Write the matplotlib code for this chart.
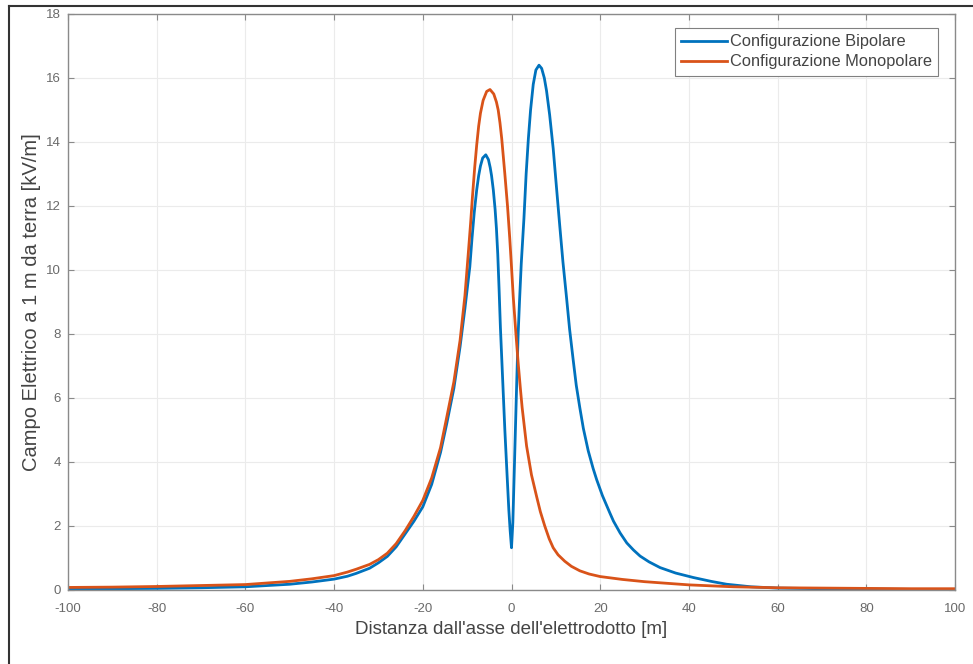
import numpy as np
import matplotlib.pyplot as plt
from matplotlib.lines import Line2D

plt.rcParams['font.family'] = ['Liberation Sans', 'DejaVu Sans']
plt.rcParams['axes.unicode_minus'] = False

# values
bip_x = [-100, -90, -80, -70, -60, -50, -45, -40, -37, -35, -32, -30, -28, -26, -24,
         -22, -20, -18, -16, -14.6, -13, -11.6, -10.5, -9.4, -8.9, -8.4, -7.85, -7.4,
         -7.0, -6.5, -5.8, -5.2, -4.8, -4.5, -4.1, -3.7, -3.4, -3.1, -2.8, -2.5, -2.0,
         -1.5, -1.0, -0.6, -0.3, 0, 0.3, 0.6, 0.9, 1.2, 1.5, 1.8, 2.2, 2.8, 3.3, 3.8,
         4.3, 4.9, 5.5, 6.2, 6.8, 7.4, 7.9, 8.6, 9.4, 10.1, 10.9, 11.6, 12.4, 13.1,
         13.9, 14.6, 15.4, 16.2, 17.3, 18.4, 19.2, 20.5, 22.2, 23, 24.5, 26, 27.5, 29,
         31, 33.5, 37, 41, 45, 48.5, 54, 60, 70, 80, 90, 100]
bip_y = [0.03, 0.04, 0.05, 0.07, 0.1, 0.18, 0.25, 0.34, 0.43, 0.52, 0.68, 0.85, 1.05, 1.35, 1.75,
         2.15, 2.6, 3.3, 4.3, 5.2, 6.3, 7.6, 8.8, 10.1, 11.0, 11.8, 12.5, 12.95,
         13.25, 13.5, 13.6, 13.45, 13.2, 12.95, 12.5, 11.9, 11.3, 10.5, 9.4, 8.2, 6.6,
         5.0, 3.6, 2.5, 1.85, 1.32, 2.1, 3.6, 5.1, 6.6, 8.0, 9.0, 10.2, 11.6, 13.0, 14.1,
         15.0, 15.8, 16.25, 16.4, 16.3, 16.0, 15.6, 14.85, 13.8, 12.65, 11.35, 10.25, 9.15, 8.15,
         7.2, 6.4, 5.7, 5.05, 4.35, 3.8, 3.45, 2.95, 2.4, 2.15, 1.78, 1.47, 1.25, 1.06,
         0.88, 0.70, 0.53, 0.39, 0.27, 0.18, 0.1, 0.06, 0.04, 0.03, 0.02, 0.02]

mono_x = [-100, -90, -80, -70, -60, -50, -45, -40, -37, -35, -32, -30, -28, -26, -24,
          -22, -20, -18, -16, -14.6, -13, -11.6, -10.5, -9.7, -9.2, -8.8, -8.3, -7.85,
          -7.4, -7.0, -6.4, -5.6, -4.85, -4.0, -3.4, -3.0, -2.6, -2.2, -1.5, -0.9, -0.4,
          0, 0.4, 1.0, 1.5, 2.0, 2.4, 3.4, 4.5, 5.7, 6.5, 7.5, 8.5, 9.4, 10.5, 12, 13.5,
          15.4, 17.5, 20, 25, 30, 40, 50, 60, 70, 80, 90, 100]
mono_y = [0.08, 0.09, 0.11, 0.14, 0.17, 0.27, 0.35, 0.45, 0.56, 0.65, 0.8, 0.95, 1.15, 1.45, 1.85,
          2.3, 2.8, 3.5, 4.45, 5.4, 6.5, 7.8, 9.2, 10.6, 11.5, 12.3, 13.2, 13.9,
          14.5, 14.9, 15.3, 15.58, 15.64, 15.5, 15.25, 15.0, 14.6, 14.1, 13.0, 12.0, 11.0,
          10.1, 9.15, 8.0, 7.1, 6.3, 5.7, 4.5, 3.6, 2.9, 2.45, 2.0, 1.6, 1.32, 1.1, 0.9, 0.74,
          0.6, 0.5, 0.42, 0.33, 0.26, 0.16, 0.1, 0.07, 0.06, 0.05, 0.04, 0.04]

labels = ['Configurazione Bipolare', 'Configurazione Monopolare']
colors = ['#0072BD', '#D95319']

fig = plt.figure(figsize=(9.73, 6.64), dpi=100)
ax = fig.add_axes([68 / 973, 1 - 590 / 664, (955 - 68) / 973, (590 - 14) / 664])

ax.plot(bip_x, bip_y, color=colors[0], lw=2.0, label=labels[0])
ax.plot(mono_x, mono_y, color=colors[1], lw=2.0, label=labels[1])

ax.set_xlim(-100, 100)
ax.set_ylim(0, 18)
ax.set_xticks(np.arange(-100, 101, 20))
ax.set_yticks(np.arange(0, 19, 2))
ax.grid(True, color='#ebebeb', lw=0.8)
ax.set_axisbelow(True)

axis_col = '#8a8a8a'
for s in ax.spines.values():
    s.set_color(axis_col)
    s.set_linewidth(1.0)
ax.tick_params(direction='in', top=True, right=True, length=4, color=axis_col,
               labelsize=9.5, labelcolor='#6a6a6a')
ax.tick_params(axis='x', pad=9)
ax.tick_params(axis='y', pad=5)

ax.set_xlabel("Distanza dall'asse dell'elettrodotto [m]", fontsize=13.5, color='#444444', labelpad=5)
ax.set_ylabel('Campo Elettrico a 1 m da terra [kV/m]', fontsize=14.5, color='#444444', labelpad=4)

leg = ax.legend(loc='upper right', bbox_to_anchor=(0.981, 0.976), fontsize=11.8,
                fancybox=False, framealpha=1, edgecolor='#808080',
                handlelength=2.8, handletextpad=0.15, borderpad=0.4, labelspacing=0.3,
                borderaxespad=0)
leg.get_frame().set_linewidth(0.8)
for t in leg.get_texts():
    t.set_color('#444444')

# outer frame (left and top edges only)
fig.add_artist(Line2D([9 / 973, 9 / 973], [0, 1 - 6 / 664], transform=fig.transFigure,
                      color='#333333', lw=1.5))
fig.add_artist(Line2D([9 / 973, 1], [1 - 6 / 664, 1 - 6 / 664], transform=fig.transFigure,
                      color='#333333', lw=1.5))

fig.savefig('out.png', dpi=100)
